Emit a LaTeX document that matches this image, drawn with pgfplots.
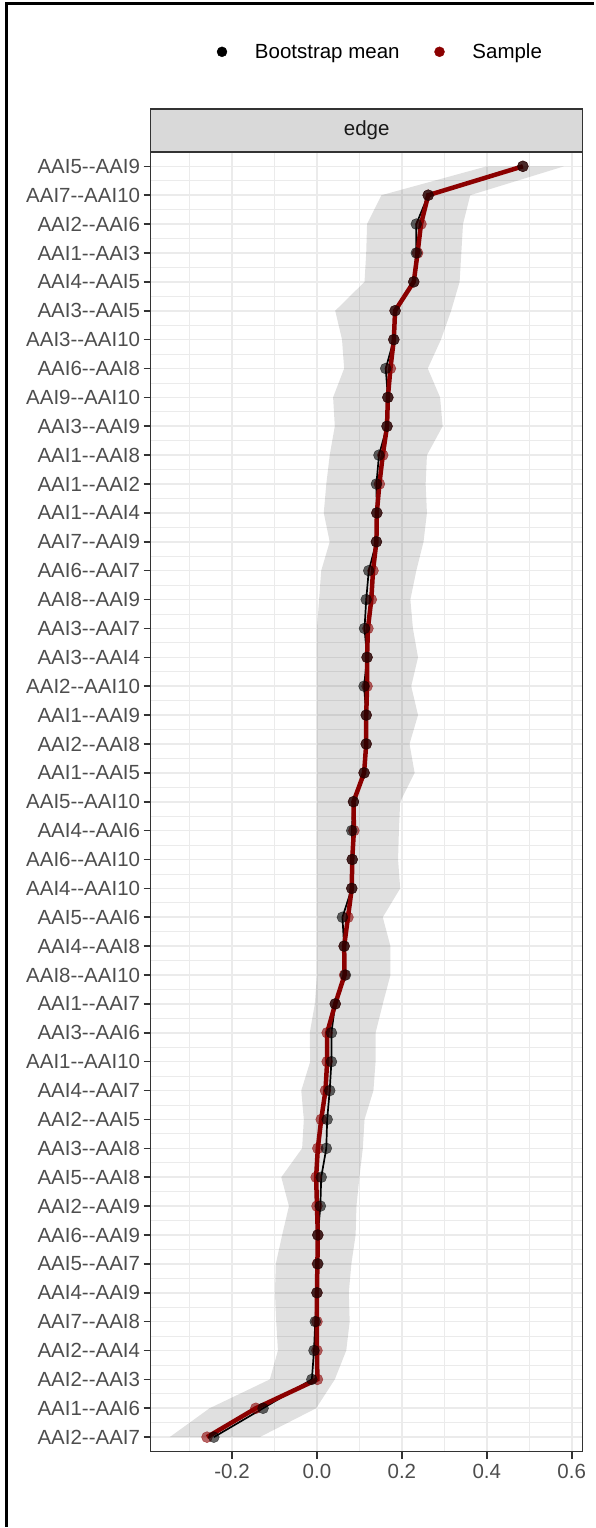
\documentclass[border=0pt]{standalone}
\usepackage{fontspec}
\setmainfont{Liberation Sans}[Ligatures=TeXOff]
\usepackage{pgfplots}
\usepackage{pgfplotstable}
\pgfplotsset{compat=1.18}

\definecolor{gridgray}{HTML}{EBEBEB}
\definecolor{frame20}{HTML}{333333}
\definecolor{text30}{HTML}{4D4D4D}
\definecolor{stripgray}{HTML}{D9D9D9}
\definecolor{samplered}{HTML}{8B0000}

% edges from bottom (pos 1) to top (pos 45)
\pgfplotstableread{
pos label boot samp
1 AAI2--AAI7 -0.243 -0.259
2 AAI1--AAI6 -0.127 -0.144
3 AAI2--AAI3 -0.012 0.001
4 AAI2--AAI4 -0.007 0.000
5 AAI7--AAI8 -0.004 0.000
6 AAI4--AAI9 0.000 0.000
7 AAI5--AAI7 0.002 0.001
8 AAI6--AAI9 0.002 0.002
9 AAI2--AAI9 0.008 0.000
10 AAI5--AAI8 0.010 -0.002
11 AAI3--AAI8 0.022 0.002
12 AAI2--AAI5 0.024 0.010
13 AAI4--AAI7 0.030 0.020
14 AAI1--AAI10 0.034 0.024
15 AAI3--AAI6 0.034 0.024
16 AAI1--AAI7 0.043 0.043
17 AAI8--AAI10 0.067 0.065
18 AAI4--AAI8 0.064 0.064
19 AAI5--AAI6 0.060 0.073
20 AAI4--AAI10 0.082 0.082
21 AAI6--AAI10 0.083 0.083
22 AAI4--AAI6 0.082 0.087
23 AAI5--AAI10 0.086 0.086
24 AAI1--AAI5 0.111 0.111
25 AAI2--AAI8 0.116 0.116
26 AAI1--AAI9 0.116 0.116
27 AAI2--AAI10 0.111 0.118
28 AAI3--AAI4 0.118 0.118
29 AAI3--AAI7 0.112 0.120
30 AAI8--AAI9 0.116 0.128
31 AAI6--AAI7 0.122 0.132
32 AAI7--AAI9 0.140 0.140
33 AAI1--AAI4 0.141 0.141
34 AAI1--AAI2 0.140 0.147
35 AAI1--AAI8 0.146 0.155
36 AAI3--AAI9 0.165 0.165
37 AAI9--AAI10 0.167 0.167
38 AAI6--AAI8 0.162 0.173
39 AAI3--AAI10 0.181 0.181
40 AAI3--AAI5 0.184 0.184
41 AAI4--AAI5 0.228 0.228
42 AAI1--AAI3 0.234 0.237
43 AAI2--AAI6 0.234 0.245
44 AAI7--AAI10 0.262 0.262
45 AAI5--AAI9 0.485 0.485
}\edges

% bootstrap interval: lower bound going up, then upper bound going down
\pgfplotstableread{
x pos
-0.347 1
-0.253 2
-0.111 3
-0.092 4
-0.096 5
-0.099 6
-0.097 7
-0.082 8
-0.066 9
-0.084 10
-0.035 11
-0.031 12
-0.037 13
-0.016 14
-0.017 15
-0.005 16
0.000 17
0.000 18
0.000 19
0.000 20
0.000 21
0.000 22
0.000 23
0.000 24
0.000 25
0.000 26
0.000 27
0.000 28
0.000 29
0.005 30
0.010 31
0.030 32
0.016 33
0.022 34
0.030 35
0.042 36
0.038 37
0.064 38
0.059 39
0.043 40
0.112 41
0.116 42
0.118 43
0.152 44
0.400 45
0.582 45
0.361 44
0.344 43
0.340 42
0.336 41
0.316 40
0.292 39
0.261 38
0.290 37
0.296 36
0.259 35
0.256 34
0.259 33
0.251 32
0.234 31
0.220 30
0.226 29
0.238 28
0.222 27
0.238 26
0.218 25
0.230 24
0.196 23
0.193 22
0.191 21
0.196 20
0.155 19
0.173 18
0.173 17
0.155 16
0.138 15
0.138 14
0.133 13
0.112 12
0.108 11
0.100 10
0.093 9
0.091 8
0.081 7
0.075 6
0.077 5
0.069 4
0.042 3
-0.002 2
-0.135 1
}\band

\begin{document}
\begin{tikzpicture}
\path (0,0) rectangle (595pt,-1528pt);
% outer frame (left and top)
\draw[line width=3pt, black] (7pt,-1528pt) -- (7pt,-3.3pt) -- (595pt,-3.3pt);

\begin{axis}[
    at={(150.7pt,-1453pt)}, anchor=south west,
    scale only axis,
    width=432.6pt, height=1301pt,
    xmin=-0.392, xmax=0.626,
    ymin=0.5, ymax=45.5,
    xtick={-0.2,0,0.2,0.4,0.6},
    xticklabels={-0.2,0.0,0.2,0.4,0.6},
    minor xtick={-0.3,-0.1,0.1,0.3,0.5},
    ytick={1,...,45},
    minor ytick={1.5,2.5,...,44.5},
    yticklabels from table={\edges}{label},
    grid=both,
    major grid style={gridgray, line width=1.6pt},
    minor grid style={gridgray, line width=0.8pt},
    axis line style={frame20, line width=1.3pt},
    tick align=outside,
    xtick pos=bottom, ytick pos=left,
    major tick length=7pt, minor tick length=0pt,
    major tick style={frame20, line width=1.6pt},
    tick label style={text=text30, font=\fontsize{20.5}{24}\selectfont},
    xticklabel style={inner sep=5.5pt},
    clip=false,
    legend style={at={(0.532,1.077)}, anchor=center,
        draw=none, fill=none, legend columns=2,
        font=\fontsize{20.5}{24}\selectfont,
        /tikz/every odd column/.append style={column sep=26pt},
        /tikz/every even column/.append style={column sep=33pt}},
]
\addplot[fill=black, fill opacity=0.12, draw=none, forget plot] table[x=x, y=pos] {\band} -- cycle;

\addplot[black, line width=1.7pt, no marks, forget plot] table[x=boot, y=pos] {\edges};
\addplot[samplered, line width=4.5pt, no marks, forget plot] table[x=samp, y=pos] {\edges};
\addplot[only marks, mark=*, mark size=5.5pt, samplered, opacity=0.6, forget plot] table[x=samp, y=pos] {\edges};
\addplot[only marks, mark=*, mark size=5.5pt, black, opacity=0.6, forget plot] table[x=boot, y=pos] {\edges};

\addlegendimage{only marks, mark=*, mark size=5pt, black}
\addlegendentry{Bootstrap mean}
\addlegendimage{only marks, mark=*, mark size=5pt, samplered}
\addlegendentry{Sample}

% facet strip
\draw[frame20, line width=1.3pt, fill=stripgray] (rel axis cs:0,1) rectangle ([yshift=43pt]rel axis cs:1,1);
\node[text=black!90, font=\fontsize{20.5}{24}\selectfont] at ([yshift=21.5pt]rel axis cs:0.5,1) {edge};
\end{axis}
\end{tikzpicture}
\end{document}
